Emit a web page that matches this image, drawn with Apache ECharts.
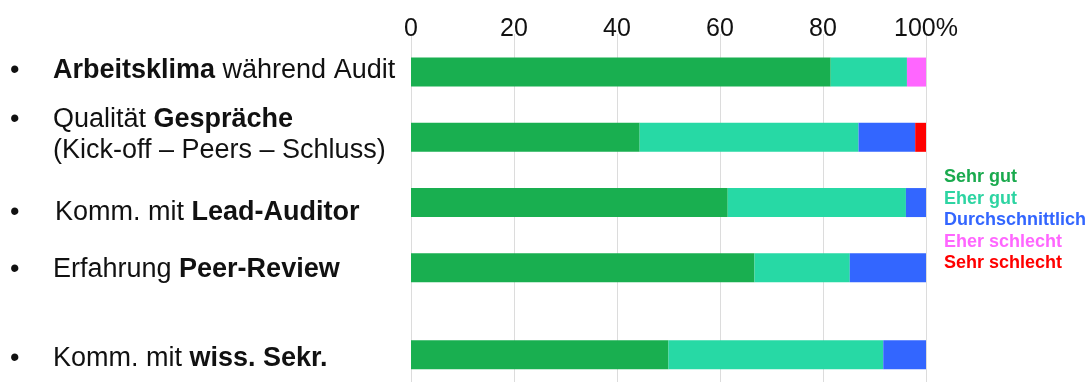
<!DOCTYPE html>
<html>
<head>
<meta charset="utf-8">
<script src="https://cdn.jsdelivr.net/npm/echarts@6/dist/echarts.min.js"></script>
<style>
html,body{margin:0;padding:0;background:#fff;}
#chart{width:1092px;height:386px;}
</style>
</head>
<body>
<div id="chart"></div>
<script>
// ---- data ----
const categories = [
  ['{b|Arbeitsklima}{n| während Audit}'],
  ['{n|Qualität }{b|Gespräche}', '{n|(Kick-off – Peers – Schluss)}'],
  ['{n|Komm. mit }{b|Lead-Auditor}'],
  ['{n|Erfahrung }{b|Peer-Review}'],
  ['{n|Komm. mit }{b|wiss. Sekr.}']
];
const seriesNames = ['Sehr gut', 'Eher gut', 'Durchschnittlich', 'Eher schlecht', 'Sehr schlecht'];
const sehrGut         = [81.5, 44.4, 61.5, 66.7, 50.0];
const eherGut         = [14.8, 42.5, 34.6, 18.5, 41.7];
const durchschnittlich= [0,    11.0,  3.9, 14.8,  8.3];
const eherSchlecht    = [3.7,   0,    0,    0,    0];
const sehrSchlecht    = [0,     2.1,  0,    0,    0];
const xTicks = [0, 20, 40, 60, 80, 100];

// ---- layout (row slots on a fine category grid to reproduce uneven spacing) ----
const slotCount = 32;
const rowSlots = [3, 9, 15, 21, 29];
const labelShiftY = [-2, -2, 10, 2, 4];  // label vertical nudges (px, + = down)
const bulletWidth = [43, 43, 45, 43, 43];
const colors = ['#19AF50', '#27D9A5', '#3366FF', '#FF66FF', '#FF0000'];
const legendColors = ['#1AAA4E', '#2DD4A2', '#3366FF', '#FF66FF', '#FF0000'];

const yData = [];
for (let i = 0; i < slotCount; i++) yData.push('');
const labelBySlot = {};
rowSlots.forEach((s, k) => { yData[s] = 'r' + k; labelBySlot['r' + k] = k; });

function slotSeries(values) {
  const arr = new Array(slotCount).fill(null);
  rowSlots.forEach((s, k) => { arr[s] = values[k] === 0 ? null : values[k]; });
  return arr;
}
const allValues = [sehrGut, eherGut, durchschnittlich, eherSchlecht, sehrSchlecht];

const FONT = '"Liberation Sans", Arial, sans-serif';
const LH = 31;
const rich = {};
categories.forEach((c, k) => {
  const d = labelShiftY[k];
  const va = d >= 0 ? 'bottom' : 'top';
  const extra = Math.max(Math.abs(d) - 2, 0);
  const base = { fontSize: 27, color: '#111', fontFamily: FONT, lineHeight: LH, verticalAlign: va };
  rich['bu' + k] = Object.assign({}, base, { width: bulletWidth[k] });
  rich['n' + k] = Object.assign({}, base);
  rich['b' + k] = Object.assign({}, base, { fontWeight: 'bold' });
  rich['sp' + k] = { fontSize: 2, width: 1, lineHeight: LH + 2 * extra, color: 'rgba(0,0,0,0)' };
});

const chart = echarts.init(document.getElementById('chart'));
chart.setOption({
  animation: false,
  backgroundColor: '#ffffff',
  grid: { left: 411, right: 166, top: 34, height: 348, containLabel: false },
  legend: {
    orient: 'vertical',
    left: 939,
    top: 163,
    icon: 'none',
    itemWidth: 0,
    itemHeight: 18,
    itemGap: 3.6,
    selectedMode: false,
    data: seriesNames.map((n, i) => ({
      name: n,
      textStyle: { color: legendColors[i], fontSize: 18, fontWeight: 'bold', fontFamily: FONT, padding: [0, 0, 0, -5] }
    }))
  },
  xAxis: {
    type: 'value',
    position: 'top',
    min: 0, max: 100, interval: 20,
    axisLine: { show: false },
    axisTick: { show: false },
    splitLine: { show: true, lineStyle: { color: '#dcdcdc', width: 1 } },
    axisLabel: {
      margin: -8,
      fontSize: 25,
      color: '#111',
      fontFamily: FONT,
      formatter: v => (v === 100 ? '100%' : String(v)),
      showMinLabel: true, showMaxLabel: true
    }
  },
  yAxis: {
    type: 'category',
    inverse: true,
    data: yData,
    axisLine: { show: false },
    axisTick: { show: false },
    splitLine: { show: false },
    axisLabel: {
      interval: 0,
      align: 'left',
      margin: 401,
      color: '#111',
      fontFamily: FONT,
      formatter: function (v) {
        if (!v) return '';
        const k = labelBySlot[v];
        const lines = categories[k];
        return lines.map((ln, i) =>
          (i === 0 ? '{bu' + k + '|•}' : '{bu' + k + '| }') +
          ln.replace(/\{(b|n)\|/g, '{$1' + k + '|') + '{sp' + k + '| }'
        ).join('\n');
      },
      rich: rich
    }
  },
  series: seriesNames.map((n, i) => ({
    name: n,
    type: 'bar',
    stack: 'total',
    barWidth: 29,
    itemStyle: { color: colors[i] },
    data: slotSeries(allValues[i])
  }))
});
</script>
</body>
</html>
